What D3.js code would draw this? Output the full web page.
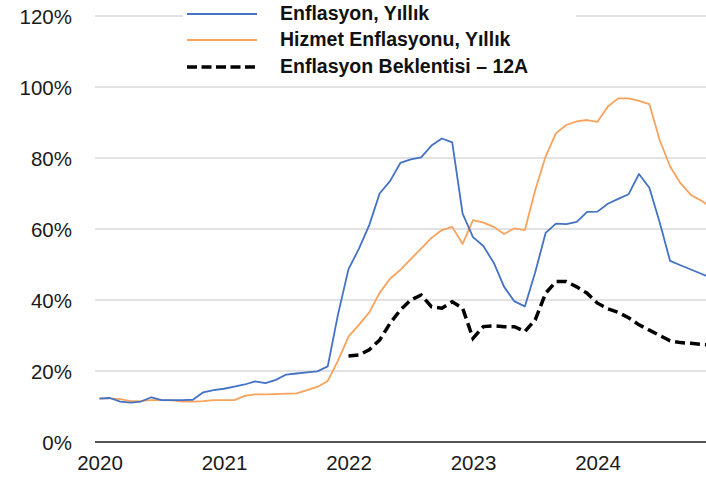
<!DOCTYPE html>
<html><head><meta charset="utf-8">
<script src="https://cdn.jsdelivr.net/npm/d3@7"></script>
<style>body{margin:0;background:#fff}svg{display:block}</style>
</head><body>
<script>
// Monthly data Jan 2020 .. Dec 2024
const years = ["2020","2021","2022","2023","2024"];
const yTicks = [0,20,40,60,80,100,120];
const seriesNames = ["Enflasyon, Yıllık","Hizmet Enflasyonu, Yıllık","Enflasyon Beklentisi – 12A"];
const cpi = [
 12.2,12.4,11.4,11.1,11.4,12.6,11.8,11.8,11.8,11.9,14.0,14.6,
 15.0,15.6,16.2,17.1,16.6,17.5,19.0,19.3,19.6,19.9,21.3,36.1,
 48.7,54.4,61.1,70.0,73.5,78.6,79.6,80.2,83.5,85.5,84.4,64.3,
 57.7,55.2,50.5,43.7,39.6,38.2,47.8,58.9,61.5,61.4,62.0,64.8,
 64.9,67.1,68.5,69.8,75.5,71.6,61.8,51.0,49.8,48.6,47.4,46.2];
const services = [
 12.3,12.3,12.1,11.5,11.6,11.8,11.8,11.7,11.4,11.4,11.5,11.8,
 11.8,11.8,13.0,13.4,13.4,13.5,13.6,13.7,14.6,15.5,17.2,23.0,
 29.7,33.0,36.5,42.0,46.0,48.5,51.5,54.5,57.5,59.7,60.6,55.8,
 62.5,61.8,60.6,58.6,60.2,59.7,71.0,80.4,87.0,89.3,90.3,90.7,
 90.2,94.5,96.8,96.8,96.1,95.2,85.0,77.6,72.9,69.6,68.0,66.0];
const expectation = [
 null,null,null,null,null,null,null,null,null,null,null,null,
 null,null,null,null,null,null,null,null,null,null,null,null,
 24.2,24.5,26.0,28.7,33.4,37.2,40.0,41.4,38.1,37.7,39.5,37.7,
 29.2,32.5,32.7,32.5,32.5,31.1,34.4,41.9,45.2,45.2,43.7,41.9,
 39.1,37.5,36.5,35.0,33.0,31.5,30.0,28.5,28.0,27.8,27.5,27.3];

const W = 706, H = 484;
const svg = d3.select("body").append("svg").attr("width", W).attr("height", H);
const x = d3.scaleLinear().domain([0, 59]).range([99.5, 711.6]);
const y = d3.scaleLinear().domain([0, 120]).range([442, 16]);
const font = "'Liberation Sans', Arial, sans-serif";

// gridlines
svg.append("g").selectAll("line").data(yTicks.filter(d => d > 0)).join("line")
  .attr("x1", 95).attr("x2", W).attr("y1", d => y(d)).attr("y2", d => y(d))
  .attr("stroke", "#d9d9d9").attr("stroke-width", 1.5);

// y labels
const yAxis = d3.axisLeft(y).tickValues(yTicks).tickFormat(d => d + "%").tickSize(0).tickPadding(0);
const yg = svg.append("g").attr("transform", "translate(72,0)").call(yAxis);
yg.select(".domain").remove();
yg.selectAll("text").attr("font-family", font).attr("font-size", 20.5).attr("fill", "#1a1a1a").attr("dy", "0.35em");

// x axis
const xAxis = d3.axisBottom(x).tickValues([0,12,24,36,48]).tickFormat((d,i) => years[i]).tickSize(0).tickPadding(13);
const xg = svg.append("g").attr("transform", "translate(0,442)").call(xAxis);
xg.select(".domain").remove();
xg.selectAll("text").attr("font-family", font).attr("font-size", 20.5).attr("fill", "#1a1a1a");
svg.append("line").attr("x1", 95).attr("x2", W).attr("y1", y(0)).attr("y2", y(0))
  .attr("stroke", "#555").attr("stroke-width", 2);

const line = d3.line().defined(d => d != null).x((d, i) => x(i)).y(d => y(d));
svg.append("path").attr("d", line(services))
  .attr("fill","none").attr("stroke","#F7A35E").attr("stroke-width",1.8).attr("stroke-linejoin","round");
svg.append("path").attr("d", line(cpi))
  .attr("fill","none").attr("stroke","#4472C4").attr("stroke-width",1.8).attr("stroke-linejoin","round");
svg.append("path").attr("d", line(expectation))
  .attr("fill","none").attr("stroke","#000").attr("stroke-width",3.5).attr("stroke-dasharray","10,5");

// legend
const lg = svg.append("g");
lg.append("rect").attr("x", 183).attr("y", 0).attr("width", 393).attr("height", 80).attr("fill", "#fff");
const colors = ["#4472C4", "#F7A35E", "#000"];
const rows = [14, 40, 67];
seriesNames.forEach((n, i) => {
  const l = lg.append("line").attr("x1", 187).attr("x2", 257).attr("y1", rows[i]).attr("y2", rows[i])
    .attr("stroke", colors[i]).attr("stroke-width", i === 2 ? 3.5 : 1.8);
  if (i === 2) l.attr("stroke-dasharray", "10,4.5");
  lg.append("text").attr("x", 280).attr("y", rows[i] - 1).attr("dy", "0.35em")
    .attr("font-family", font).attr("font-size", 19.5).attr("font-weight", "bold").attr("fill", "#111").text(n);
});
</script>
</body></html>
